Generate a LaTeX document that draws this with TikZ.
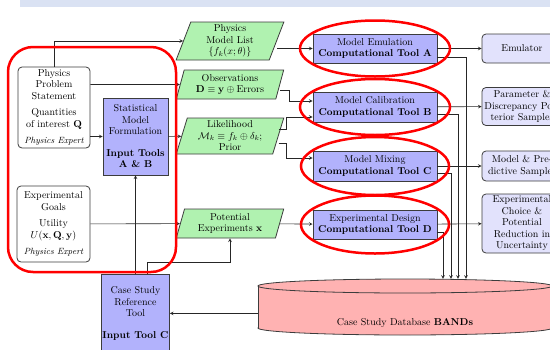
\documentclass[tikz,border=0pt]{standalone}
\usepackage{amsmath}
\usepackage{amssymb}
\usepackage{tikz}
\usetikzlibrary{arrows,shapes.geometric}

\definecolor{toolblue}{RGB}{178,178,252}
\definecolor{outblue}{RGB}{226,226,252}
\definecolor{ingreen}{RGB}{176,242,176}
\definecolor{dbpink}{RGB}{255,178,178}
\definecolor{bandblue}{RGB}{218,226,243}
\definecolor{edgegray}{RGB}{60,60,60}

\begin{document}
\begin{tikzpicture}[>=stealth, x=1pt, y=-1pt, font=\fontsize{10}{11.5}\selectfont]
	\tikzstyle{expert} = [draw=edgegray, thick, rounded corners=4pt, fill=white, align=center, inner sep=1pt]
	\tikzstyle{tool} = [draw=edgegray, thick, fill=toolblue, align=center, inner sep=1pt]
	\tikzstyle{result} = [draw=edgegray, thick, rounded corners=4pt, fill=outblue, align=center, inner sep=1pt, minimum width=80pt]
	\tikzstyle{data} = [draw=edgegray, thick, fill=ingreen, trapezium, trapezium left angle=75, trapezium right angle=105, trapezium stretches=true, minimum width=108pt, align=center, inner sep=1pt]
	\tikzstyle{link} = [->, semithick, draw=black!85]
	\tikzstyle{ring} = [draw=red, line width=2.5pt]
	\useasboundingbox (0,0) rectangle (550,349);
	\clip (0,0) rectangle (550,349);
	\fill[bandblue] (20,0) rectangle (550,7);
	% database cylinder
	\filldraw[fill=dbpink, draw=edgegray, thick] (405,328) ellipse[x radius=147pt, y radius=7pt];
	\fill[dbpink] (258,286) rectangle (552,328);
	\draw[edgegray, thick] (258,286) -- (258,328) (552,286) -- (552,328);
	\filldraw[fill=dbpink, draw=edgegray, thick] (405,286) ellipse[x radius=147pt, y radius=7pt];
	\path
	  node[expert, minimum width=72pt, minimum height=81pt] (pps) at (54,107.5)
	    {Physics\\Problem\\Statement\\[5pt]Quantities\\of interest $\mathbf{Q}$\\[5pt]{\small\itshape Physics Expert}}
	  node[expert, minimum width=73pt, minimum height=76pt] (eg) at (53.5,224)
	    {Experimental\\Goals\\[5pt]Utility\\$U(\mathbf{x},\mathbf{Q},\mathbf{y})$\\[5pt]{\small\itshape Physics Expert}}
	  node[tool, minimum width=65pt, minimum height=77pt] (smf) at (135.5,136.5)
	    {Statistical\\Model\\Formulation\\[10pt]\textbf{Input Tools}\\\textbf{A \& B}}
	  node[tool, minimum width=65pt, minimum height=78pt, anchor=north] (csr) at (135.5,274)
	    {Case Study\\Reference\\Tool\\[10pt]\textbf{Input Tool C}}
	  node[data, minimum height=38pt] (pml) at (230,41) {Physics\\Model List\\$\{f_k(x;\theta)\}$}
	  node[data, minimum height=29pt] (obs) at (230,84.5) {Observations\\$\mathbf{D}\equiv\mathbf{y}\oplus\mathrm{Errors}$}
	  node[data, minimum height=36pt] (lik) at (230,136) {Likelihood\\$\mathcal{M}_k\equiv f_k\oplus\delta_k$;\\Prior}
	  node[data, minimum height=29pt] (pex) at (230,223.5) {Potential\\Experiments $\mathbf{x}$}
	  node[tool, minimum width=124pt, minimum height=29pt] (ca) at (375,48.5) {Model Emulation\\\textbf{Computational Tool A}}
	  node[tool, minimum width=124pt, minimum height=30pt] (cb) at (375,107) {Model Calibration\\\textbf{Computational Tool B}}
	  node[tool, minimum width=124pt, minimum height=30pt] (cc) at (375,166) {Model Mixing\\\textbf{Computational Tool C}}
	  node[tool, minimum width=124pt, minimum height=29pt] (cd) at (375,224.5) {Experimental Design\\\textbf{Computational Tool D}}
	  node[result, minimum height=29pt] (emu) at (522,48.5) {Emulator}
	  node[result, minimum height=38pt] (par) at (522,106.5) {Parameter \&\\Discrepancy Pos-\\terior Samples}
	  node[result, minimum height=30pt] (mps) at (522,166) {Model \& Pre-\\dictive Samples}
	  node[result, minimum height=59pt] (ech) at (522,223.5) {Experimental\\Choice \&\\Potential\\Reduction in\\Uncertainty}
	  node[minimum width=294pt, minimum height=56pt, inner sep=0pt] (db) at (405,307) {}
	  node (dbl) at (405,323) {Case Study Database \textbf{BANDs}};
	% inputs
	\draw[link] (pps.north) |- (pml);
	\draw[link] (pps.east |- obs) -- (obs);
	\draw[link] (pps.east |- smf) -- (smf);
	\draw[link] (smf) -- (lik);
	\draw[link] (eg) -- (pex);
	\draw[link] (csr) -- (smf);
	\draw[link] ([xshift=11.5pt]csr.north) -- ++(0,-12) -| (pex);
	\draw[link] (db.west |- csr) -- (csr);
	% tools
	\draw[link] (pml.east |- ca) -- (ca);
	\draw[link] ([yshift=-5.5pt]obs.east) -- ++(9,0) |- ([yshift=6pt]cb.west);
	\draw[link] ([yshift=7pt]lik.east) -- ++(8,0) |- ([yshift=-10pt]cb.west);
	\draw[link] ([yshift=-7pt]lik.east) -- ++(8,0) |- ([yshift=8pt]cc.west);
	\draw[link] (pex) -- (cd);
	% outputs
	\draw[link] (ca) -- (emu);
	\draw[link] (cb) -- (par);
	\draw[link] (cc) -- (mps);
	\draw[link] (cd) -- (ech);
	\draw[link] ([yshift=-8.5pt]ca.east) -| ([xshift=61pt]db.north);
	\draw[link] ([yshift=-7pt]cb.east) -| ([xshift=53pt]db.north);
	\draw[link] ([yshift=-7pt]cc.east) -| ([xshift=46pt]db.north);
	\draw[link] ([yshift=-7.5pt]cd.east) -| ([xshift=38pt]db.north);
	% highlights
	\draw[ring, rounded corners=25pt] (8,47) rectangle (176,272);
	\draw[ring] (ca) ellipse[x radius=75pt, y radius=28pt];
	\draw[ring] (cb) ellipse[x radius=75pt, y radius=28pt];
	\draw[ring] (cc) ellipse[x radius=74pt, y radius=29pt];
	\draw[ring] (cd) ellipse[x radius=74pt, y radius=29pt];
\end{tikzpicture}
\end{document}
